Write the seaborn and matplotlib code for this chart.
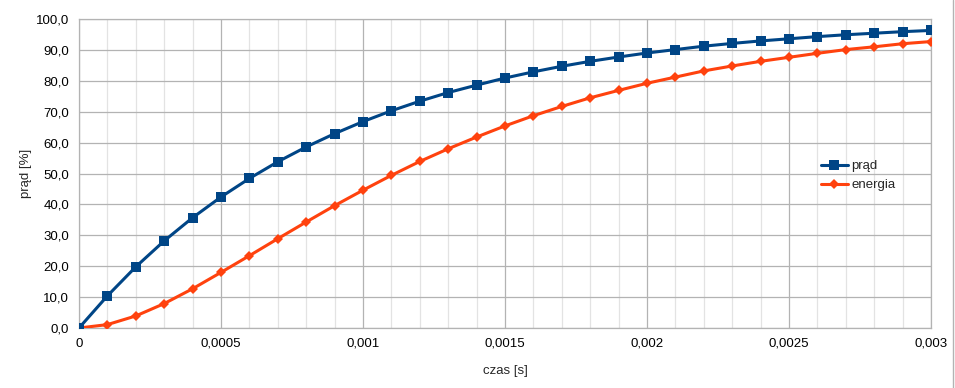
import matplotlib
matplotlib.use('Agg')
import matplotlib.pyplot as plt
import matplotlib.ticker as mticker
import seaborn as sns
import pandas as pd

# time steps [s]
czas = [i * 0.0001 for i in range(31)]

# current [%]
prad = [0.0, 10.4, 19.8, 28.2, 35.7, 42.4, 48.4, 53.8, 58.6, 62.9,
        66.8, 70.3, 73.4, 76.2, 78.6, 80.9, 82.9, 84.7, 86.3, 87.7,
        89.0, 90.1, 91.2, 92.1, 92.9, 93.6, 94.3, 94.9, 95.4, 95.9, 96.3]

# energy [%]
energia = [0.0, 1.1, 3.9, 7.9, 12.7, 18.0, 23.4, 28.9, 34.3, 39.6,
           44.6, 49.4, 53.9, 58.0, 61.8, 65.4, 68.7, 71.7, 74.5, 76.9,
           79.2, 81.2, 83.2, 84.8, 86.3, 87.6, 88.9, 90.1, 91.0, 92.0, 92.7]


def comma(fmt):
    return mticker.FuncFormatter(lambda v, p: fmt(v).replace('.', ','))


def main():
    sns.set_style('white')
    plt.rcParams['font.family'] = ['Liberation Sans', 'DejaVu Sans']

    df = pd.DataFrame({'czas': czas, 'prąd': prad, 'energia': energia})

    fig = plt.figure(figsize=(9.55, 3.88), dpi=100)
    ax = fig.add_axes([79 / 955, 1 - 328 / 388, (931 - 79) / 955, (328 - 19) / 388])

    sns.lineplot(data=df, x='czas', y='prąd', ax=ax, color='#004586', lw=2.2,
                 marker='s', markersize=7.5, markeredgewidth=0, label='prąd', zorder=4)
    sns.lineplot(data=df, x='czas', y='energia', ax=ax, color='#ff420e', lw=2.2,
                 marker='D', markersize=5.5, markeredgewidth=0, label='energia', zorder=3)

    ax.set_xlim(0, 0.003)
    ax.set_ylim(0, 100)
    ax.xaxis.set_major_locator(mticker.MultipleLocator(0.0005))
    ax.xaxis.set_minor_locator(mticker.MultipleLocator(0.0001))
    ax.yaxis.set_major_locator(mticker.MultipleLocator(10))
    ax.xaxis.set_major_formatter(comma(lambda v: '0' if abs(v) < 1e-12 else f'{v:.4f}'.rstrip('0')))
    ax.yaxis.set_major_formatter(comma(lambda v: f'{v:.1f}'))

    ax.grid(which='minor', axis='x', color='#e3e3e3', lw=0.9)
    ax.grid(which='major', color='#b3b3b3', lw=0.9)
    ax.set_axisbelow(True)
    for s in ax.spines.values():
        s.set_color('#b3b3b3')
        s.set_linewidth(0.9)
    ax.tick_params(which='major', length=4, width=0.9, color='#b3b3b3',
                   labelsize=9.5, labelcolor='black', pad=3)
    ax.tick_params(which='minor', length=0)

    ax.set_xlabel('czas [s]', fontsize=9.5, labelpad=11)
    ax.set_ylabel('prąd [%]', fontsize=9.5, labelpad=3)

    ax.legend(loc='upper left', bbox_to_anchor=(0.865, 0.56), frameon=False,
              fontsize=9.5, handlelength=2.0, handletextpad=0.3, labelspacing=0.5,
              borderaxespad=0)

    fig.add_artist(plt.Line2D([953 / 955, 953 / 955], [0, 1], color='#b3b3b3', lw=1))

    fig.savefig('out.png', dpi=100)


if __name__ == '__main__':
    main()
